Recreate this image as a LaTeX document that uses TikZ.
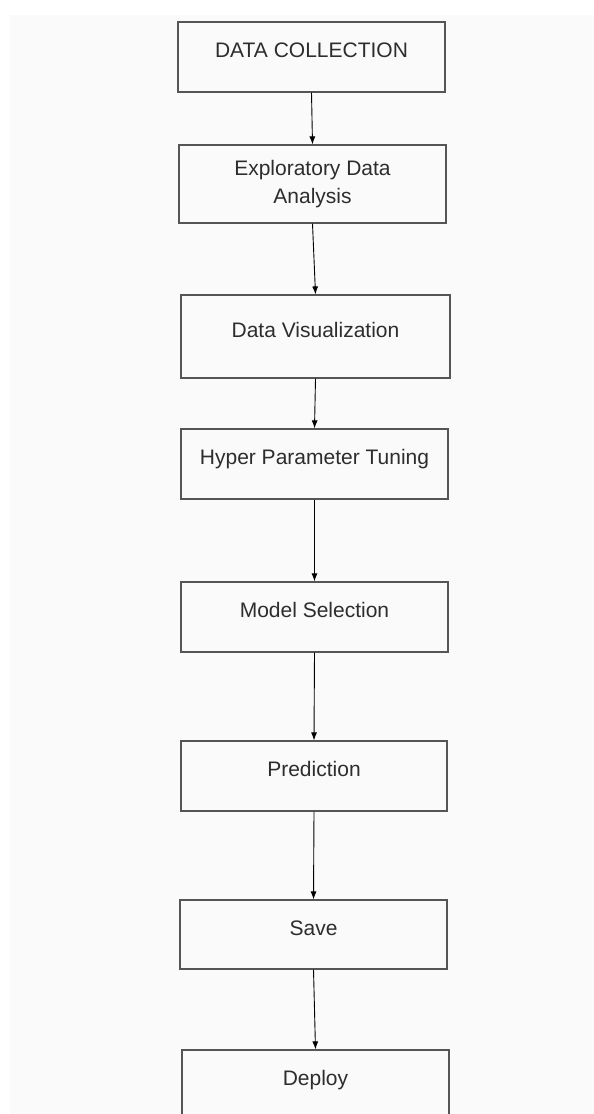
\documentclass[tikz,border=0pt]{standalone}
\usepackage{fontspec}
\setmainfont{Liberation Sans}
\usepackage{tikz}
\usetikzlibrary{arrows.meta}
\definecolor{pagegrey}{RGB}{250,250,250}
\definecolor{boxline}{RGB}{85,85,85}
\definecolor{boxtext}{RGB}{45,45,45}
\tikzset{%
    stepbox/.style={%
        draw=boxline, line width=1.2pt, fill=pagegrey,
        minimum width=267pt, minimum height=70pt,
        inner sep=0pt, align=center, text=boxtext,
        font=\fontsize{21}{28}\selectfont
    },
    oneline/.style={text height=15pt, text depth=14pt},
    flow/.style={-{Latex[length=8pt,width=6pt]}, line width=0.9pt, black}
}

\begin{document}
\begin{tikzpicture}[x=1pt,y=-1pt]
    \useasboundingbox (0,0) rectangle (594,1114);
    \fill[white] (0,0) rectangle (594,1114);
    \fill[pagegrey] (10,15) rectangle (594,1114);
    % the pipeline, top to bottom
    \node[stepbox, oneline] (collect) at (311.5,57) {DATA COLLECTION};
    \node[stepbox, minimum height=78pt] (eda) at (312.5,184) {Exploratory Data\\Analysis};
    \node[stepbox, oneline, minimum width=269pt, minimum height=83pt] (visual) at (315.5,336.5) {Data Visualization};
    \node[stepbox, oneline] (tuning) at (314.5,464) {Hyper Parameter Tuning};
    \node[stepbox, oneline] (model) at (314.5,617) {Model Selection};
    \node[stepbox, oneline, minimum width=266pt] (predict) at (314,776) {Prediction};
    \node[stepbox, oneline, minimum height=69pt] (save) at (313.5,934.5) {Save};
    \node[stepbox, oneline] (deploy) at (315.5,1085) {Deploy};
    % connectors
    \draw[flow] (collect.south) -- (eda.north);
    \draw[flow] (eda.south) -- (visual.north);
    \draw[flow] (visual.south) -- (tuning.north);
    \draw[flow] (tuning.south) -- (model.north);
    \draw[flow] (model.south) -- (predict.north);
    \draw[flow] (predict.south) -- (save.north);
    \draw[flow] (save.south) -- (deploy.north);
\end{tikzpicture}
\end{document}
